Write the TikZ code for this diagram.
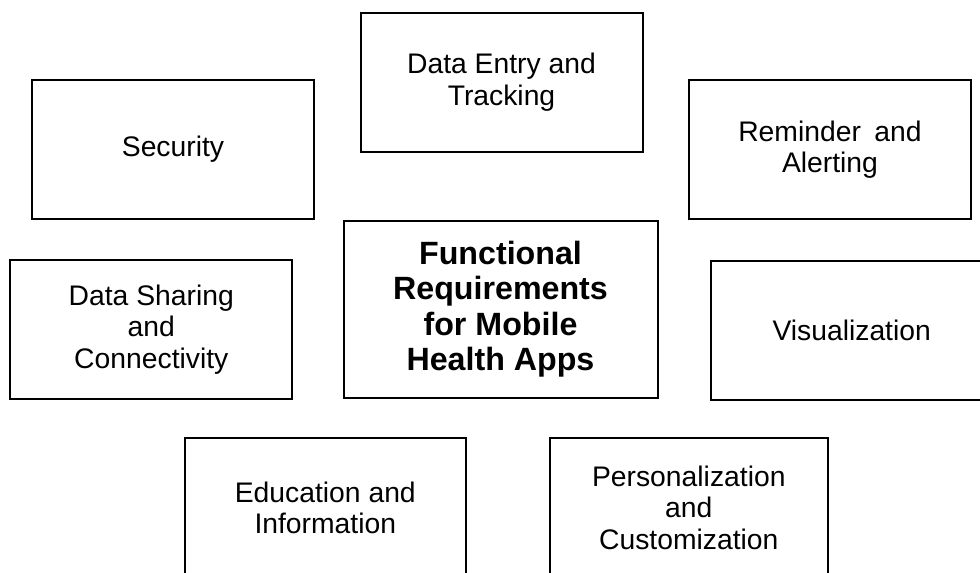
\documentclass[tikz,border=0pt]{standalone}
\usepackage{fontspec}
\setmainfont{Liberation Sans}
\begin{document}
\begin{tikzpicture}[x=1pt,y=-1pt,
  reqbox/.style={draw=black, line width=2pt, rectangle, fill=white,
    minimum width=282pt, minimum height=139pt, align=center, inner sep=0pt,
    font=\fontsize{28.3}{31.3}\selectfont},
  hubbox/.style={reqbox, minimum width=314pt, minimum height=177pt,
    font=\fontsize{32.2}{35.3}\selectfont\bfseries}]
  \useasboundingbox (0,0) rectangle (980,573);
  \clip (0,0) rectangle (980,573);
  \fill[white] (0,0) rectangle (980,573);

  % central topic
  \node[hubbox] (hub) at (500.5,309.3) {Functional\\Requirements\\for Mobile\\Health Apps};

  % surrounding requirement areas
  \node[reqbox] (entry)   at (501.5,82.2)  {Data Entry and\\Tracking};
  \node[reqbox] (sec)     at (173,149.3)   {Security};
  \node[reqbox] (remind)  at (830,149.5)   {Reminder\hspace{0.2em} and\\Alerting};
  \node[reqbox] (share)   at (151.3,329.5) {Data Sharing\\and\\Connectivity};
  \node[reqbox] (vis)     at (851.7,330)   {Visualization};
  \node[reqbox, minimum width=281pt] (edu)  at (325.3,507.8) {Education and\\Information};
  \node[reqbox, minimum width=278pt] (pers) at (688.8,507.8) {Personalization\\and\\Customization};
\end{tikzpicture}
\end{document}
